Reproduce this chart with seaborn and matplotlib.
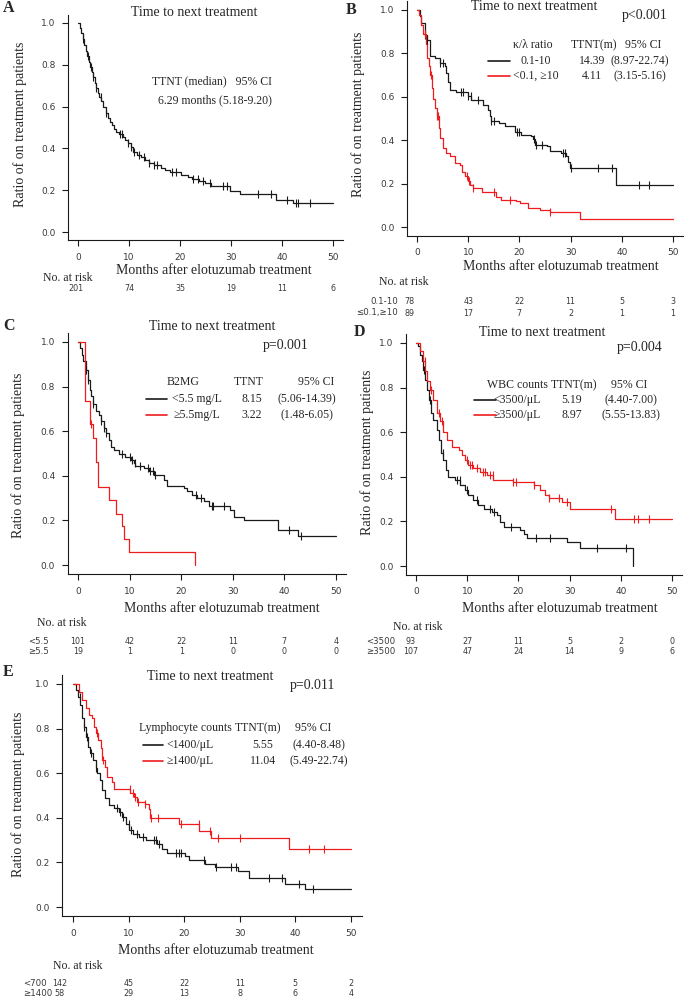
import numpy as np
import pandas as pd
import matplotlib
matplotlib.use("Agg")
import matplotlib.pyplot as plt
from matplotlib.lines import Line2D
from matplotlib.transforms import blended_transform_factory
import seaborn as sns

W, H = 685, 1000
SERIF = ["Liberation Serif", "DejaVu Serif"]
SANS = ["DejaVu Sans"]
INK = "#1a1a1a"
GREY = "#3a3a3a"
RED = "#ee1c1c"

# ---- data (months, ratio still on treatment) ----
month_ticks = [0, 10, 20, 30, 40, 50]
ratio_ticks = [0.0, 0.2, 0.4, 0.6, 0.8, 1.0]

# A: all patients
A_t = [0, 0.3, 0.6, 0.9, 1.2, 1.5, 1.8, 2.1, 2.4, 2.7, 3.0, 3.3, 3.6, 3.9, 4.2, 4.6, 5.0, 5.4, 5.8, 6.2,
       6.6, 7.0, 7.5, 8.0, 8.8, 9.3, 9.8, 10.3, 10.8, 11.5, 12.3, 13.2, 14.0, 15.0, 16.2, 17.0, 18.0, 20.2,
       21.5, 22.3, 23.8, 25.0, 26.0, 29.8, 31.7, 38.8, 42.2, 50.0]
A_s = [1.0, 0.975, 0.95, 0.925, 0.895, 0.865, 0.84, 0.815, 0.79, 0.765, 0.74, 0.715, 0.69, 0.665, 0.645,
       0.625, 0.6, 0.57, 0.545, 0.525, 0.51, 0.495, 0.48, 0.47, 0.455, 0.44, 0.425, 0.405, 0.385, 0.37,
       0.36, 0.345, 0.33, 0.32, 0.305, 0.295, 0.285, 0.275, 0.265, 0.255, 0.245, 0.235, 0.22, 0.195, 0.18,
       0.155, 0.137, 0.137]
A_cens = [1.0, 2.0, 2.6, 3.0, 3.6, 4.5, 5.5, 8.2, 8.6, 9.8, 10.4, 11.0, 12.0, 13.0, 14.0, 15.0, 15.5,
          18.5, 19.2, 22.6, 23.5, 24.5, 25.9, 28.5, 29.2, 35.3, 37.8, 40.9, 42.7, 43.2, 45.4]
A_risk = [201, 74, 35, 19, 11, 6]

# B: kappa/lambda ratio
B_black_t = [0, 0.5, 0.85, 1.5, 2.0, 2.5, 3.45, 4.4, 5.4, 5.7, 6.05, 6.4, 7.7, 10.0, 10.6, 12.9, 13.9,
             14.2, 14.5, 16.1, 17.1, 19.1, 20.4, 22.3, 22.7, 23.0, 25.3, 25.9, 28.2, 29.2, 29.5, 29.8,
             38.9, 50.0]
B_black_s = [1.0, 0.97, 0.94, 0.885, 0.86, 0.79, 0.78, 0.755, 0.74, 0.71, 0.67, 0.63, 0.62, 0.605, 0.585,
             0.56, 0.54, 0.51, 0.49, 0.48, 0.465, 0.44, 0.425, 0.42, 0.405, 0.38, 0.375, 0.35, 0.34, 0.325,
             0.30, 0.27, 0.195, 0.195]
B_black_cens = [1.5, 2.0, 4.5, 5.0, 8.5, 9.0, 10.0, 10.5, 12.0, 14.5, 15.0, 19.5, 20.0, 22.8, 23.3,
                24.5, 28.5, 29.0, 30.0, 35.3, 38.0, 43.4, 45.4]
B_red_t = [0, 0.3, 0.85, 1.2, 1.7, 2.0, 2.35, 2.6, 2.9, 3.2, 3.6, 3.9, 4.2, 4.55, 5.1, 5.6, 6.4, 7.4,
           8.3, 8.7, 9.3, 10.0, 10.3, 10.9, 12.6, 15.5, 16.5, 19.4, 20.1, 21.7, 24.0, 26.0, 31.8, 50.0]
B_red_s = [1.0, 0.977, 0.93, 0.89, 0.845, 0.78, 0.74, 0.70, 0.64, 0.59, 0.55, 0.51, 0.455, 0.41, 0.365,
           0.34, 0.325, 0.295, 0.285, 0.255, 0.235, 0.21, 0.195, 0.18, 0.16, 0.14, 0.125, 0.118, 0.11,
           0.087, 0.077, 0.07, 0.037, 0.037]
B_red_cens = [1.5, 2.8, 3.9, 4.1, 9.8, 10.2, 11.0, 15.0, 18.2, 26.0]
B_risk_black = [78, 43, 22, 11, 5, 3]
B_risk_red = [89, 17, 7, 2, 1, 1]

# C: B2MG
C_black_t = [0, 0.4, 0.7, 1.0, 1.5, 1.9, 2.3, 2.6, 3.0, 3.4, 4.1, 4.5, 5.0, 5.5, 6.0, 6.4, 7.0, 7.9,
             9.2, 10.2, 10.8, 11.1, 12.8, 13.7, 14.7, 16.6, 17.3, 20.5, 21.1, 22.1, 23.1, 24.4, 25.3,
             29.5, 30.2, 32.1, 38.7, 42.6, 50.0]
C_black_s = [1.0, 0.973, 0.943, 0.913, 0.876, 0.83, 0.786, 0.756, 0.72, 0.69, 0.674, 0.644, 0.614, 0.59,
             0.56, 0.53, 0.516, 0.50, 0.486, 0.47, 0.456, 0.445, 0.434, 0.42, 0.405, 0.38, 0.353, 0.344,
             0.33, 0.314, 0.30, 0.285, 0.265, 0.247, 0.217, 0.202, 0.157, 0.132, 0.132]
C_black_cens = [1.5, 2.0, 3.0, 4.5, 5.0, 5.5, 8.5, 10.0, 10.5, 11.0, 12.0, 13.5, 14.0, 14.5, 15.0,
                22.8, 23.8, 25.9, 26.1, 28.3, 40.8, 43.3]
C_red_t = [0, 1.3, 2.3, 3.0, 3.5, 3.9, 6.0, 7.4, 8.6, 9.0, 9.9, 22.7]
C_red_s = [1.0, 0.737, 0.632, 0.57, 0.46, 0.35, 0.29, 0.23, 0.175, 0.115, 0.058, 0.0]
C_red_cens = [2.6]
C_risk_black = [101, 42, 22, 11, 7, 4]
C_risk_red = [19, 1, 1, 0, 0, 0]

# D: WBC counts
D_black_t = [0, 0.45, 0.8, 1.1, 1.4, 1.76, 2.2, 2.6, 2.9, 3.4, 4.0, 4.5, 4.8, 5.35, 5.9, 6.3, 7.6, 8.6,
             9.6, 10.2, 11.2, 12.2, 13.2, 14.8, 15.8, 16.4, 17.1, 20.3, 21.0, 21.6, 29.5, 32.1, 42.4]
D_black_s = [1.0, 0.985, 0.948, 0.918, 0.88, 0.835, 0.79, 0.745, 0.685, 0.655, 0.61, 0.565, 0.505, 0.475,
             0.43, 0.40, 0.385, 0.363, 0.34, 0.318, 0.295, 0.273, 0.258, 0.243, 0.228, 0.198, 0.175, 0.16,
             0.145, 0.127, 0.108, 0.082, 0.0]
D_black_cens = [1.5, 2.8, 5.3, 8.0, 8.5, 10.0, 12.0, 14.5, 15.3, 18.5, 23.5, 26.1, 35.3, 41.0]
D_red_t = [0, 0.8, 1.3, 1.76, 2.2, 2.7, 3.4, 4.0, 4.7, 5.35, 6.0, 7.0, 8.3, 8.9, 9.6, 10.2, 11.2, 12.5,
           13.8, 15.1, 19.0, 23.0, 24.3, 25.2, 25.9, 28.5, 30.1, 38.9, 50.0]
D_red_s = [1.0, 0.963, 0.918, 0.873, 0.828, 0.79, 0.745, 0.685, 0.648, 0.603, 0.565, 0.535, 0.52, 0.498,
           0.475, 0.453, 0.438, 0.423, 0.408, 0.385, 0.378, 0.363, 0.34, 0.318, 0.303, 0.288, 0.258, 0.213,
           0.213]
D_red_cens = [1.7, 3.0, 4.5, 5.0, 10.0, 10.5, 11.0, 12.0, 13.0, 13.5, 14.5, 15.0, 19.0, 19.5, 23.0,
              26.0, 28.0, 29.5, 38.0, 42.5, 43.3, 45.5]
D_risk_black = [93, 27, 11, 5, 2, 0]
D_risk_red = [107, 47, 24, 14, 9, 6]

# E: lymphocyte counts
E_black_t = [0, 0.5, 0.96, 1.26, 1.7, 2.0, 2.4, 2.75, 3.1, 3.6, 4.1, 4.4, 4.8, 5.3, 5.75, 6.5, 7.4, 8.3,
             8.9, 9.5, 10.1, 10.7, 11.9, 13.1, 15.1, 16.0, 16.9, 20.2, 20.8, 23.8, 25.6, 29.6, 31.6, 38.2,
             41.8, 50.0]
E_black_s = [1.0, 0.973, 0.943, 0.905, 0.846, 0.808, 0.763, 0.719, 0.689, 0.659, 0.621, 0.599, 0.569,
             0.524, 0.487, 0.457, 0.442, 0.428, 0.404, 0.374, 0.344, 0.329, 0.314, 0.299, 0.284, 0.262,
             0.243, 0.228, 0.21, 0.195, 0.18, 0.16, 0.13, 0.105, 0.082, 0.082]
E_black_cens = [1.2, 2.0, 2.5, 3.2, 4.2, 8.0, 8.5, 9.0, 10.0, 10.5, 11.5, 12.5, 14.5, 15.0, 15.5, 18.5,
                19.0, 19.5, 23.5, 25.7, 28.5, 29.3, 35.3, 37.6, 40.7, 43.2]
E_red_t = [0, 1.1, 1.7, 2.4, 2.9, 3.5, 3.75, 4.2, 4.5, 5.0, 5.2, 5.7, 6.1, 7.0, 7.3, 10.3, 10.9, 11.5,
           13.0, 13.6, 13.9, 19.0, 22.7, 24.8, 38.8, 50.0]
E_red_s = [1.0, 0.966, 0.928, 0.891, 0.861, 0.846, 0.808, 0.778, 0.749, 0.711, 0.659, 0.629, 0.584,
           0.561, 0.527, 0.51, 0.494, 0.47, 0.464, 0.441, 0.40, 0.374, 0.34, 0.31, 0.262, 0.262]
E_red_cens = [4.3, 5.4, 10.2, 10.8, 11.2, 11.6, 13.0, 14.0, 15.3, 19.4, 22.6, 24.7, 26.1, 30.0, 42.4, 45.2]
E_risk_black = [142, 45, 22, 11, 5, 2]
E_risk_red = [58, 29, 13, 8, 6, 4]

# legend tables: header, group names, median TTNT, 95% CI
B_header = ["\u03ba/\u03bb ratio", "TTNT(m)", "95% CI"]
B_groups = ["0.1-10", "<0.1, \u226510"]
B_ttnt = ["14.39", "4.11"]
B_ci = ["(8.97-22.74)", "(3.15-5.16)"]
C_header = ["B2MG", "TTNT", "95% CI"]
C_groups = ["<5.5 mg/L", "\u22655.5mg/L"]
C_ttnt = ["8.15", "3.22"]
C_ci = ["(5.06-14.39)", "(1.48-6.05)"]
D_header = ["WBC counts", "TTNT(m)", "95% CI"]
D_groups = ["<3500/\u03bcL", "\u22653500/\u03bcL"]
D_ttnt = ["5.19", "8.97"]
D_ci = ["(4.40-7.00)", "(5.55-13.83)"]
E_header = ["Lymphocyte counts", "TTNT(m)", "95% CI"]
E_groups = ["<1400/\u03bcL", "\u22651400/\u03bcL"]
E_ttnt = ["5.55", "11.04"]
E_ci = ["(4.40-8.48)", "(5.49-22.74)"]

# ---- layout (pixels in a 685x1000 canvas) ----
panels = [
    dict(tag="A", box=(67.8, 14.6, 343.2, 240.4), letter=(9, 8), title=(194, 13), ylab=(20, 124),
         xlab=(214, 270), atrisk=(68, 278), risk_y=[289], risk_shift=-0.4,
         curves=[(A_t, A_s, A_cens, INK)], risks=[(None, A_risk)]),
    dict(tag="B", box=(406.8, 1.3, 683.2, 235.7), letter=(351, 10), title=(534, 7), ylab=(358, 114),
         xlab=(561, 267), atrisk=(404, 282), risk_y=[302, 313], risk_shift=-1.5, label_x=(398, "right"),
         pval=("p<0.001", 645, 15),
         curves=[(B_black_t, B_black_s, B_black_cens, INK), (B_red_t, B_red_s, B_red_cens, RED)],
         risks=[("0.1-10", B_risk_black), ("\u22640.1,\u226510", B_risk_red)],
         legend=dict(rows=(45, 61, 76), head_x=(533, 594, 643), row_x=(536, 592, 640), line=(488, 510),
                     header=B_header, groups=B_groups, ttnt=B_ttnt, ci=B_ci)),
    dict(tag="C", box=(67.7, 333, 346.3, 574), letter=(9, 326), title=(212, 327), ylab=(18, 455),
         xlab=(222, 608), atrisk=(62, 623), risk_y=[642, 652], risk_shift=0.0, label_x=(28, "left"),
         pval=("p=0.001", 286, 345),
         curves=[(C_black_t, C_black_s, C_black_cens, INK), (C_red_t, C_red_s, C_red_cens, RED)],
         risks=[("<5.5", C_risk_black), ("\u22655.5", C_risk_red)],
         legend=dict(rows=(382, 399, 415), head_x=(183, 249, 316), row_x=(197, 252, 307), line=(146, 167),
                     header=C_header, groups=C_groups, ttnt=C_ttnt, ci=C_ci)),
    dict(tag="D", box=(405.8, 334, 682.2, 575), letter=(359, 332), title=(542, 332), ylab=(367, 452),
         xlab=(560, 608), atrisk=(418, 627), risk_y=[642, 652], risk_shift=-1.0, label_x=(366, "left"),
         pval=("p=0.004", 640, 347),
         curves=[(D_black_t, D_black_s, D_black_cens, INK), (D_red_t, D_red_s, D_red_cens, RED)],
         risks=[("<3500", D_risk_black), ("\u22653500", D_risk_red)],
         legend=dict(rows=(385, 400, 415), head_x=(517, 574, 629), row_x=(517, 572, 631), line=(474, 496),
                     header=D_header, groups=D_groups, ttnt=D_ttnt, ci=D_ci)),
    dict(tag="E", box=(61.9, 675, 362.1, 916), letter=(8, 672), title=(210, 676), ylab=(18, 794),
         xlab=(216, 950), atrisk=(78, 966), risk_y=[983, 994], risk_shift=-2.4, label_x=(23, "left"),
         pval=("p=0.011", 313, 685),
         curves=[(E_black_t, E_black_s, E_black_cens, INK), (E_red_t, E_red_s, E_red_cens, RED)],
         risks=[("<700", E_risk_black), ("\u22651400", E_risk_red)],
         legend=dict(rows=(728, 745, 761), head_x=(185, 258, 313), row_x=(190, 263, 319), line=(143, 163),
                     header=E_header, groups=E_groups, ttnt=E_ttnt, ci=E_ci)),
]

sns.set_theme(style="ticks")
plt.rcParams["font.family"] = SANS
plt.rcParams["axes.linewidth"] = 0.8

fig = plt.figure(figsize=(W / 100, H / 100), dpi=100)


def put(x, y, s, size=9, family=SERIF, ha="center", **kw):
    fig.text(x / W, 1 - y / H, s, fontsize=size, family=family, ha=ha, va="center", **kw)


def step_at(t, s, when):
    idx = np.searchsorted(np.asarray(t), np.asarray(when), side="right") - 1
    return np.asarray(s)[idx]


def draw_curve(ax, t, s, cens, color):
    line_df = pd.DataFrame({"month": t, "ratio": s})
    sns.lineplot(data=line_df, x="month", y="ratio", drawstyle="steps-post", estimator=None, sort=False,
                 color=color, linewidth=0.9, ax=ax)
    cens_df = pd.DataFrame({"month": cens, "ratio": step_at(t, s, cens)})
    sns.scatterplot(data=cens_df, x="month", y="ratio", marker="|", s=30, linewidth=0.8, color=color,
                    ax=ax, zorder=3)


for p in panels:
    l, t, r, b = p["box"]
    ax = fig.add_axes([l / W, 1 - b / H, (r - l) / W, (b - t) / H])
    for ct, cs, cc, col in p["curves"]:
        draw_curve(ax, ct, cs, cc, col)
    ax.set_xlim(-2, 52)
    ax.set_ylim(-0.04, 1.04)
    ax.set_xticks(month_ticks)
    ax.set_xticklabels([str(m) for m in month_ticks])
    ax.set_yticks(ratio_ticks)
    ax.set_yticklabels([f"{v:.1f}" for v in ratio_ticks])
    ax.set_xlabel("")
    ax.set_ylabel("")
    ax.tick_params(direction="out", length=4.5, width=0.8, pad=4.5, labelsize=6.5, labelcolor=GREY, color=INK)
    sns.despine(ax=ax)
    for side in ("left", "bottom"):
        ax.spines[side].set_color(INK)
        ax.spines[side].set_linewidth(0.8)

    put(*p["letter"], p["tag"], size=11.5, weight="bold")
    put(*p["title"], "Time to next treatment", size=10)
    put(*p["ylab"], "Ratio of on treatment patients", size=10, rotation=90)
    put(*p["xlab"], "Months after elotuzumab treatment", size=10)
    put(*p["atrisk"], "No. at risk", size=8.5)
    if "pval" in p:
        txt, px, py = p["pval"]
        put(px, py, txt, size=10)

    # numbers at risk under each tick
    tr = blended_transform_factory(ax.transData, fig.transFigure)
    for (label, counts), ry in zip(p["risks"], p["risk_y"]):
        for k, (m, n) in enumerate(zip(month_ticks, counts)):
            xm = m + (p["risk_shift"] if k == 0 else 0)
            ax.text(xm, 1 - ry / H, str(n), transform=tr, ha="center", va="center", fontsize=5.8,
                    family=SANS, color=GREY, clip_on=False)
        if label is not None:
            lx, lha = p["label_x"]
            put(lx, ry, label, size=6.2, family=SANS, ha=lha, color=GREY)

    # legend table
    lg = p.get("legend")
    if lg is not None:
        hy, y1, y2 = lg["rows"]
        for hx, htxt in zip(lg["head_x"], lg["header"]):
            put(hx, hy, htxt, size=8.5)
        for ry, grp, tt, ci, (_, _, _, col) in zip((y1, y2), lg["groups"], lg["ttnt"], lg["ci"], p["curves"]):
            x0, x1 = lg["line"]
            fig.add_artist(Line2D([x0 / W, x1 / W], [1 - ry / H] * 2, color=col, lw=1.2,
                                  transform=fig.transFigure))
            for cx, s in zip(lg["row_x"], (grp, tt, ci)):
                put(cx, ry, s, size=8.5)

# panel A has a two line note instead of a legend
put(212, 81, "TTNT (median)   95% CI", size=8.5)
put(215, 100, "6.29 months (5.18-9.20)", size=8.5)

fig.savefig("out.png", dpi=100, facecolor="white")
